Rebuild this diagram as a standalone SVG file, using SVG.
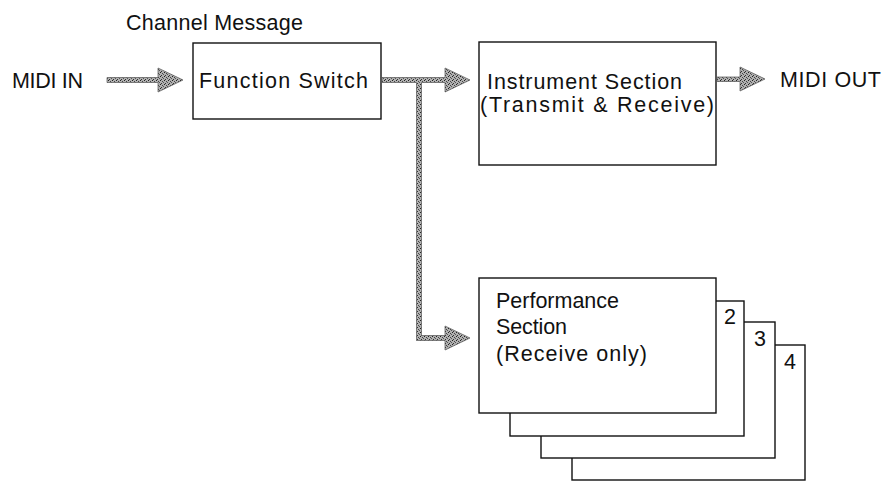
<svg xmlns="http://www.w3.org/2000/svg" width="885" height="481" viewBox="0 0 885 481">
<defs>
<pattern id="stip" width="4" height="4" patternUnits="userSpaceOnUse">
<rect width="4" height="4" fill="#b0b0b0"/>
<rect width="1" height="1" fill="#222"/>
<rect x="2" y="1" width="1" height="1" fill="#444"/>
<rect x="1" y="3" width="1" height="1" fill="#333"/>
<rect x="3" y="2" width="1" height="1" fill="#555"/>
</pattern>
</defs>
<style>
text{font-family:"Liberation Sans",Arial,sans-serif;font-size:21.5px;fill:#111}
.box{fill:#fff;stroke:#111;stroke-width:1.4}
.arr{fill:url(#stip);stroke:#555;stroke-width:0.7}
</style>
<rect width="885" height="481" fill="#fff"/>
<text x="126" y="30" textLength="177" lengthAdjust="spacing">Channel Message</text>
<text x="12" y="88" textLength="71" lengthAdjust="spacing">MIDI IN</text>
<g id="function-switch">
<rect class="box" x="193" y="43" width="188" height="76"/>
<text x="199" y="88" textLength="169" lengthAdjust="spacing">Function Switch</text>
</g>
<g id="instrument-section">
<rect class="box" x="479" y="42" width="237" height="123"/>
<text x="487" y="89" textLength="195" lengthAdjust="spacing">Instrument Section</text>
<text x="480" y="112" textLength="234" lengthAdjust="spacing">(Transmit &amp; Receive)</text>
</g>
<text x="780" y="87" textLength="101" lengthAdjust="spacing">MIDI OUT</text>
<g id="performance-section">
<rect class="box" x="572" y="345" width="233" height="135"/>
<rect class="box" x="541" y="322" width="234" height="136"/>
<rect class="box" x="510" y="301" width="234" height="135"/>
<rect class="box" x="479" y="278" width="237" height="135"/>
<text x="496" y="308" textLength="123" lengthAdjust="spacing">Performance</text>
<text x="496" y="334" textLength="71" lengthAdjust="spacing">Section</text>
<text x="496" y="361" textLength="151" lengthAdjust="spacing">(Receive only)</text>
<text x="724" y="324">2</text>
<text x="754" y="346">3</text>
<text x="784" y="369">4</text>
</g>
<g id="connectors">
<polygon class="arr" points="107,77.5 158,77.5 158,68 183,80 158,92 158,82.5 107,82.5"/>
<polygon class="arr" points="382,77.5 445,77.5 445,68 470,80 445,92 445,82.5 421.5,82.5 421.5,335.5 445,335.5 445,326 470,338 445,350 445,340.5 416.5,340.5 416.5,82.5 382,82.5"/>
<polygon class="arr" points="717,77 740,77 740,67 765,79 740,91 740,81.5 717,81.5"/>
</g>
</svg>
